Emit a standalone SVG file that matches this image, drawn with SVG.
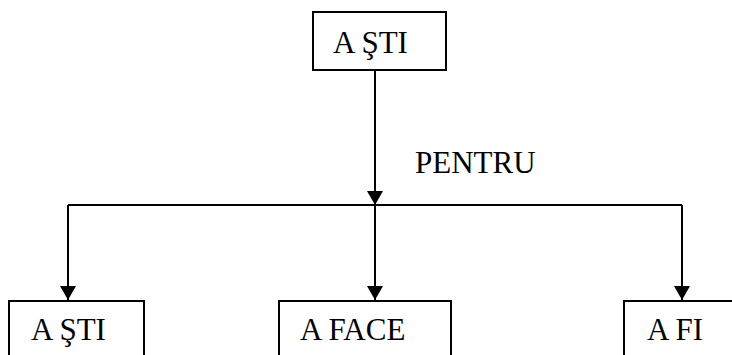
<svg xmlns="http://www.w3.org/2000/svg" width="732" height="355" viewBox="0 0 732 355">
<style>
.box{fill:#fff;stroke:#000;stroke-width:2}
.t{font-family:"Liberation Serif","Times New Roman",serif;font-size:31px;fill:#000}
.c{fill:none;stroke:#000;stroke-width:2}
</style>
<defs>
<marker id="ah" viewBox="0 0 14 16" refX="14" refY="8" markerWidth="14" markerHeight="16" markerUnits="userSpaceOnUse" orient="auto">
<path d="M0,0 L14,8 L0,16 Z" fill="#000"/>
</marker>
</defs>
<rect width="732" height="355" fill="#fff"/>
<g id="connectors">
<line class="c" x1="375" y1="70" x2="375" y2="205" marker-end="url(#ah)"/>
<line class="c" x1="68" y1="205" x2="682" y2="205"/>
<line class="c" x1="68" y1="205" x2="68" y2="300" marker-end="url(#ah)"/>
<line class="c" x1="375" y1="205" x2="375" y2="300" marker-end="url(#ah)"/>
<line class="c" x1="682" y1="205" x2="682" y2="300" marker-end="url(#ah)"/>
<text class="t" x="415" y="173">PENTRU</text>
</g>
<g id="node-top">
<rect class="box" x="313" y="12" width="133" height="58"/>
<text class="t" x="333" y="53">A ŞTI</text>
</g>
<g id="node-left">
<rect class="box" x="9" y="301" width="135" height="70"/>
<text class="t" x="31" y="340">A ŞTI</text>
</g>
<g id="node-middle">
<rect class="box" x="279" y="301" width="172" height="70"/>
<text class="t" x="300" y="340">A FACE</text>
</g>
<g id="node-right">
<rect class="box" x="624" y="301" width="130" height="70"/>
<text class="t" x="647" y="340">A FI</text>
</g>
</svg>
